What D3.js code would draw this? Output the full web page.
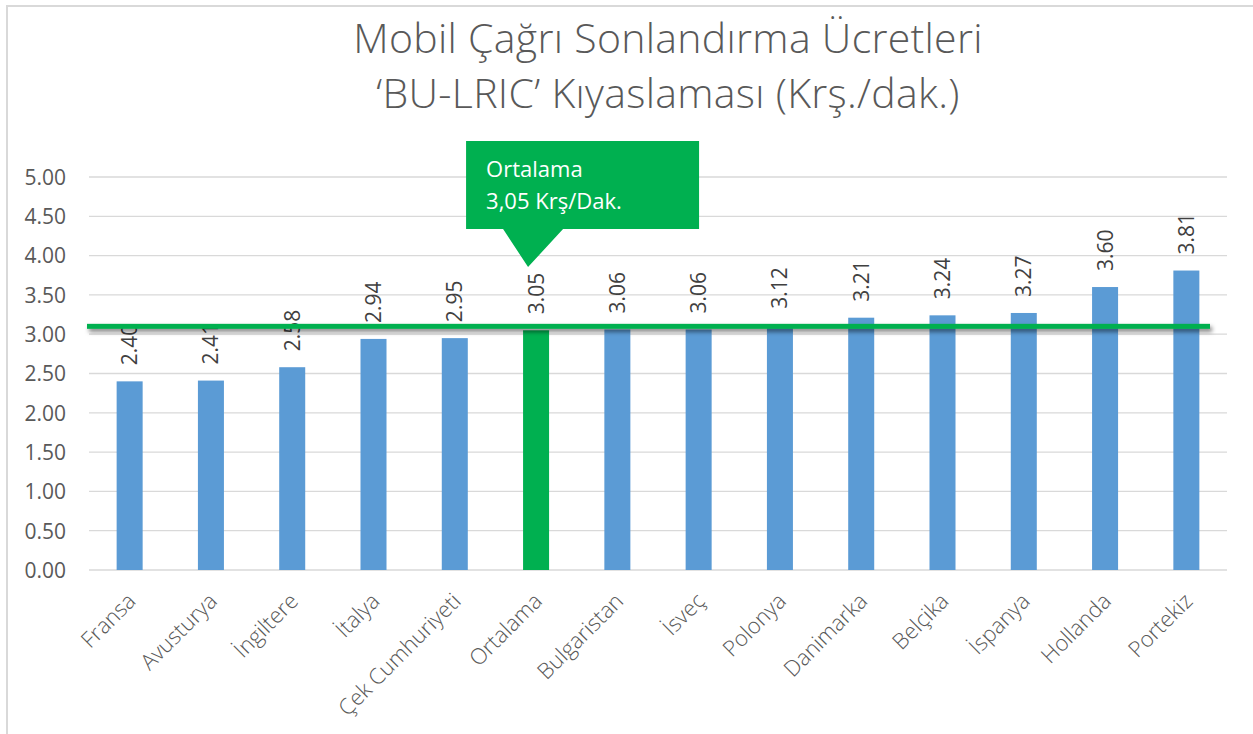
<!DOCTYPE html>
<html>
<head>
<meta charset="utf-8">
<style>
  body { margin: 0; background: #fff; }
  svg text { font-family: "Open Sans", "Noto Sans", sans-serif; }
</style>
</head>
<body>
<div id="chart"></div>
<script src="https://d3js.org/d3.v7.min.js"></script>
<script>
    // veriler
    const countries = ['Fransa', 'Avusturya', 'İngiltere', 'İtalya', 'Çek Cumhuriyeti', 'Ortalama',
                       'Bulgaristan', 'İsveç', 'Polonya', 'Danimarka', 'Belçika', 'İspanya', 'Hollanda', 'Portekiz'];
    const rates = [2.40, 2.41, 2.58, 2.94, 2.95, 3.05, 3.06, 3.06, 3.12, 3.21, 3.24, 3.27, 3.60, 3.81];
    const yTicks = [0, 0.5, 1, 1.5, 2, 2.5, 3, 3.5, 4, 4.5, 5];
    const titleLines = ['Mobil Çağrı Sonlandırma Ücretleri', '‘BU-LRIC’ Kıyaslaması (Krş./dak.)'];
    const avgName = 'Ortalama';
    const avgLineValue = 3.10;   // yeşil çizgi (şekil olarak çizilmiş)
    const calloutLines = ['Ortalama', '3,05 Krş/Dak.'];

    const W = 1253, H = 734;
    const svg = d3.select('#chart')
                  .append('svg')
                  .attr('width', W)
                  .attr('height', H);

    // dış çerçeve
    svg.append('rect').attr('x', 7).attr('y', 6).attr('width', W + 20).attr('height', H + 20)
       .style('fill', '#fff').style('stroke', '#d9d9d9').style('stroke-width', 2);

    const x = d3.scaleBand().domain(countries).range([89, 1227]).paddingInner(0.68).paddingOuter(0.34);
    const y = d3.scaleLinear().domain([0, 5]).range([570, 177]);

    // başlık
    svg.append('g').selectAll('text')
       .data(titleLines)
       .enter()
       .append('text')
       .attr('x', 668)
       .attr('y', (d, i) => 53 + i * 55)
       .attr('text-anchor', 'middle')
       .style('font-size', '41px')
       .style('letter-spacing', '0.3px')
       .style('font-weight', 300)
       .style('fill', '#595959')
       .text(d => d);

    // ızgara çizgileri
    svg.append('g').selectAll('line')
       .data(yTicks)
       .enter()
       .append('line')
       .attr('x1', 89).attr('x2', 1227)
       .attr('y1', d => y(d)).attr('y2', d => y(d))
       .style('stroke', '#d9d9d9').style('stroke-width', 1.3);

    // y ekseni
    const yAxis = svg.append('g')
       .attr('transform', 'translate(66,0)')
       .call(d3.axisLeft(y).tickValues(yTicks).tickFormat(d3.format('.2f')).tickSize(0).tickPadding(0));
    yAxis.select('.domain').remove();
    yAxis.selectAll('text')
         .attr('dy', '0.35em')
         .style('font-size', '21px')
         .style('font-family', '"Open Sans", sans-serif')
         .style('fill', '#595959');

    // x ekseni etiketleri
    const xAxis = svg.append('g')
       .attr('transform', 'translate(0,570)')
       .call(d3.axisBottom(x).tickSize(0).tickPadding(0));
    xAxis.select('.domain').remove();
    xAxis.selectAll('text')
         .attr('text-anchor', 'end')
         .attr('transform', 'translate(2,27) rotate(-45)')
         .attr('y', 0).attr('dy', '0.35em')
         .style('font-size', '22px')
         .style('font-family', '"Open Sans", sans-serif')
         .style('font-weight', 300)
         .style('fill', '#595959');

    // çubuklar
    svg.append('g').selectAll('rect')
       .data(countries)
       .enter()
       .append('rect')
       .attr('x', d => x(d))
       .attr('width', x.bandwidth())
       .attr('y', (d, i) => y(rates[i]))
       .attr('height', (d, i) => y(0) - y(rates[i]))
       .style('fill', d => d == avgName ? '#00b050' : '#5b9bd5');

    // değer etiketleri
    svg.append('g').selectAll('text')
       .data(countries)
       .enter()
       .append('text')
       .attr('transform', (d, i) => `translate(${x(d) + x.bandwidth() / 2 + 7.5},${y(rates[i]) - 16}) rotate(-90)`)
       .attr('text-anchor', 'start')
       .style('font-size', '21px')
       .style('fill', '#404040')
       .text((d, i) => rates[i].toFixed(2));

    // ortalama çizgisi + gölge
    const defs = svg.append('defs');
    const f = defs.append('filter').attr('id', 'shadow')
                  .attr('filterUnits', 'userSpaceOnUse')
                  .attr('x', 0).attr('y', 280).attr('width', W).attr('height', 100);
    f.append('feDropShadow').attr('dx', 2).attr('dy', 3).attr('stdDeviation', 2)
     .attr('flood-color', '#000').attr('flood-opacity', 0.5);

    svg.append('rect')
       .attr('x', 87).attr('width', 1210 - 87)
       .attr('y', y(avgLineValue) - 2.5).attr('height', 5)
       .style('fill', '#00b050')
       .attr('filter', 'url(#shadow)');

    // açıklama balonu
    const cx = x(avgName) + x.bandwidth() / 2;
    const callout = svg.append('g');
    callout.append('path')
       .attr('d', `M${cx - 70},141 H${cx + 163} V229 H${cx + 27} L${cx - 8},267 L${cx - 33},229 H${cx - 70} Z`)
       .style('fill', '#00b050');
    callout.selectAll('text')
       .data(calloutLines)
       .enter()
       .append('text')
       .attr('x', cx - 50)
       .attr('y', (d, i) => 177 + i * 32)
       .style('font-size', '22px')
       .style('fill', '#fff')
       .text(d => d);
</script>
</body>
</html>
